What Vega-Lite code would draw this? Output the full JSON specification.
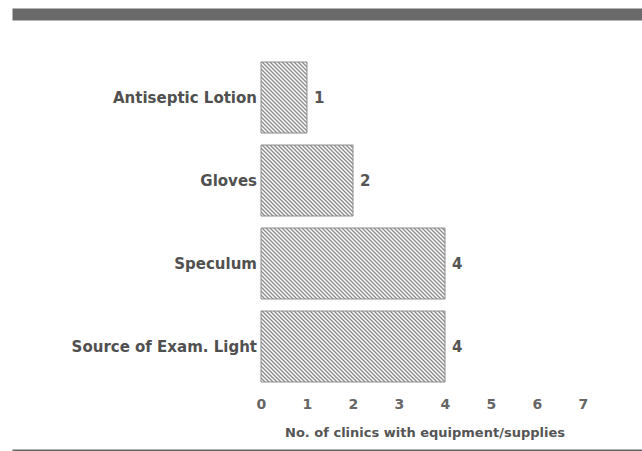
{
"$schema":"https://vega.github.io/schema/vega-lite/v6.json",
"autosize":"none",
"width":630,"height":437,
"padding":{"left":12,"top":14,"right":0,"bottom":0},
"background":"#ffffff",
"config":{"view":{"stroke":null},"font":"DejaVu Sans"},
"data":{"values":[
{"item":"Antiseptic Lotion","v":1},
{"item":"Gloves","v":2},
{"item":"Speculum","v":4},
{"item":"Source of Exam. Light","v":4}
]},
"resolve":{"axis":{"x":"independent"}},
"layer":[
{"mark":{"type":"bar","stroke":"#8c8c8c","strokeWidth":1},
"encoding":{
"x":{"field":"v","type":"quantitative","scale":{"domain":[-5.41304,8.28261],"nice":false,"zero":false},
"axis":{"orient":"bottom","values":[0,1,2,3,4,5,6,7],"format":"d","grid":false,"ticks":false,"tickSize":0,"domainColor":"#666666","domainWidth":4,"labelPadding":-47,"labelBaseline":"middle","labelFont":"DejaVu Sans","labelFontWeight":"bold","labelFontSize":14,"labelColor":"#666666","labelOverlap":false,"labelFlush":false,"title":"No. of clinics with equipment/supplies","titleFont":"DejaVu Sans","titleFontWeight":"bold","titleFontSize":13,"titleColor":"#555555","titleBaseline":"middle","titleX":412.5,"titleY":-19}},
"y":{"field":"item","type":"nominal","sort":null,"scale":{"paddingInner":0.14458,"paddingOuter":0.70482,"align":0.41026},"axis":null},
"fill":{"condition":[
{"test":"datum.v == 1","value":{"gradient":"linear","x1":0,"y1":1,"x2":1.64538,"y2":-1.53961,"stops":[{"offset":0,"color":"#8c8c8c"},{"offset":0.0078,"color":"#fff"},{"offset":0.0156,"color":"#8c8c8c"},{"offset":0.0234,"color":"#fff"},{"offset":0.0313,"color":"#8c8c8c"},{"offset":0.0391,"color":"#fff"},{"offset":0.0469,"color":"#8c8c8c"},{"offset":0.0547,"color":"#fff"},{"offset":0.0625,"color":"#8c8c8c"},{"offset":0.0703,"color":"#fff"},{"offset":0.0781,"color":"#8c8c8c"},{"offset":0.0859,"color":"#fff"},{"offset":0.0938,"color":"#8c8c8c"},{"offset":0.1016,"color":"#fff"},{"offset":0.1094,"color":"#8c8c8c"},{"offset":0.1172,"color":"#fff"},{"offset":0.125,"color":"#8c8c8c"},{"offset":0.1328,"color":"#fff"},{"offset":0.1406,"color":"#8c8c8c"},{"offset":0.1484,"color":"#fff"},{"offset":0.1563,"color":"#8c8c8c"},{"offset":0.1641,"color":"#fff"},{"offset":0.1719,"color":"#8c8c8c"},{"offset":0.1797,"color":"#fff"},{"offset":0.1875,"color":"#8c8c8c"},{"offset":0.1953,"color":"#fff"},{"offset":0.2031,"color":"#8c8c8c"},{"offset":0.2109,"color":"#fff"},{"offset":0.2188,"color":"#8c8c8c"},{"offset":0.2266,"color":"#fff"},{"offset":0.2344,"color":"#8c8c8c"},{"offset":0.2422,"color":"#fff"},{"offset":0.25,"color":"#8c8c8c"},{"offset":0.2578,"color":"#fff"},{"offset":0.2656,"color":"#8c8c8c"},{"offset":0.2734,"color":"#fff"},{"offset":0.2813,"color":"#8c8c8c"},{"offset":0.2891,"color":"#fff"},{"offset":0.2969,"color":"#8c8c8c"},{"offset":0.3047,"color":"#fff"},{"offset":0.3125,"color":"#8c8c8c"},{"offset":0.3203,"color":"#fff"},{"offset":0.3281,"color":"#8c8c8c"},{"offset":0.3359,"color":"#fff"},{"offset":0.3438,"color":"#8c8c8c"},{"offset":0.3516,"color":"#fff"},{"offset":0.3594,"color":"#8c8c8c"},{"offset":0.3672,"color":"#fff"},{"offset":0.375,"color":"#8c8c8c"},{"offset":0.3828,"color":"#fff"},{"offset":0.3906,"color":"#8c8c8c"},{"offset":0.3984,"color":"#fff"},{"offset":0.4063,"color":"#8c8c8c"},{"offset":0.4141,"color":"#fff"},{"offset":0.4219,"color":"#8c8c8c"},{"offset":0.4297,"color":"#fff"},{"offset":0.4375,"color":"#8c8c8c"},{"offset":0.4453,"color":"#fff"},{"offset":0.4531,"color":"#8c8c8c"},{"offset":0.4609,"color":"#fff"},{"offset":0.4688,"color":"#8c8c8c"},{"offset":0.4766,"color":"#fff"},{"offset":0.4844,"color":"#8c8c8c"},{"offset":0.4922,"color":"#fff"},{"offset":0.5,"color":"#8c8c8c"},{"offset":0.5078,"color":"#fff"},{"offset":0.5156,"color":"#8c8c8c"},{"offset":0.5234,"color":"#fff"},{"offset":0.5313,"color":"#8c8c8c"},{"offset":0.5391,"color":"#fff"},{"offset":0.5469,"color":"#8c8c8c"},{"offset":0.5547,"color":"#fff"},{"offset":0.5625,"color":"#8c8c8c"},{"offset":0.5703,"color":"#fff"},{"offset":0.5781,"color":"#8c8c8c"},{"offset":0.5859,"color":"#fff"},{"offset":0.5938,"color":"#8c8c8c"},{"offset":0.6016,"color":"#fff"},{"offset":0.6094,"color":"#8c8c8c"},{"offset":0.6172,"color":"#fff"},{"offset":0.625,"color":"#8c8c8c"},{"offset":0.6328,"color":"#fff"},{"offset":0.6406,"color":"#8c8c8c"},{"offset":0.6484,"color":"#fff"},{"offset":0.6563,"color":"#8c8c8c"},{"offset":0.6641,"color":"#fff"},{"offset":0.6719,"color":"#8c8c8c"},{"offset":0.6797,"color":"#fff"},{"offset":0.6875,"color":"#8c8c8c"},{"offset":0.6953,"color":"#fff"},{"offset":0.7031,"color":"#8c8c8c"},{"offset":0.7109,"color":"#fff"},{"offset":0.7188,"color":"#8c8c8c"},{"offset":0.7266,"color":"#fff"},{"offset":0.7344,"color":"#8c8c8c"},{"offset":0.7422,"color":"#fff"},{"offset":0.75,"color":"#8c8c8c"},{"offset":0.7578,"color":"#fff"},{"offset":0.7656,"color":"#8c8c8c"},{"offset":0.7734,"color":"#fff"},{"offset":0.7813,"color":"#8c8c8c"},{"offset":0.7891,"color":"#fff"},{"offset":0.7969,"color":"#8c8c8c"},{"offset":0.8047,"color":"#fff"},{"offset":0.8125,"color":"#8c8c8c"},{"offset":0.8203,"color":"#fff"},{"offset":0.8281,"color":"#8c8c8c"},{"offset":0.8359,"color":"#fff"},{"offset":0.8438,"color":"#8c8c8c"},{"offset":0.8516,"color":"#fff"},{"offset":0.8594,"color":"#8c8c8c"},{"offset":0.8672,"color":"#fff"},{"offset":0.875,"color":"#8c8c8c"},{"offset":0.8828,"color":"#fff"},{"offset":0.8906,"color":"#8c8c8c"},{"offset":0.8984,"color":"#fff"},{"offset":0.9063,"color":"#8c8c8c"},{"offset":0.9141,"color":"#fff"},{"offset":0.9219,"color":"#8c8c8c"},{"offset":0.9297,"color":"#fff"},{"offset":0.9375,"color":"#8c8c8c"},{"offset":0.9453,"color":"#fff"},{"offset":0.9531,"color":"#8c8c8c"},{"offset":0.9609,"color":"#fff"},{"offset":0.9688,"color":"#8c8c8c"},{"offset":0.9766,"color":"#fff"},{"offset":0.9844,"color":"#8c8c8c"},{"offset":0.9922,"color":"#fff"},{"offset":1,"color":"#8c8c8c"}]}},
{"test":"datum.v == 2","value":{"gradient":"linear","x1":0,"y1":1,"x2":1.74395,"y2":-0.34588,"stops":[{"offset":0,"color":"#8c8c8c"},{"offset":0.0078,"color":"#fff"},{"offset":0.0156,"color":"#8c8c8c"},{"offset":0.0234,"color":"#fff"},{"offset":0.0313,"color":"#8c8c8c"},{"offset":0.0391,"color":"#fff"},{"offset":0.0469,"color":"#8c8c8c"},{"offset":0.0547,"color":"#fff"},{"offset":0.0625,"color":"#8c8c8c"},{"offset":0.0703,"color":"#fff"},{"offset":0.0781,"color":"#8c8c8c"},{"offset":0.0859,"color":"#fff"},{"offset":0.0938,"color":"#8c8c8c"},{"offset":0.1016,"color":"#fff"},{"offset":0.1094,"color":"#8c8c8c"},{"offset":0.1172,"color":"#fff"},{"offset":0.125,"color":"#8c8c8c"},{"offset":0.1328,"color":"#fff"},{"offset":0.1406,"color":"#8c8c8c"},{"offset":0.1484,"color":"#fff"},{"offset":0.1563,"color":"#8c8c8c"},{"offset":0.1641,"color":"#fff"},{"offset":0.1719,"color":"#8c8c8c"},{"offset":0.1797,"color":"#fff"},{"offset":0.1875,"color":"#8c8c8c"},{"offset":0.1953,"color":"#fff"},{"offset":0.2031,"color":"#8c8c8c"},{"offset":0.2109,"color":"#fff"},{"offset":0.2188,"color":"#8c8c8c"},{"offset":0.2266,"color":"#fff"},{"offset":0.2344,"color":"#8c8c8c"},{"offset":0.2422,"color":"#fff"},{"offset":0.25,"color":"#8c8c8c"},{"offset":0.2578,"color":"#fff"},{"offset":0.2656,"color":"#8c8c8c"},{"offset":0.2734,"color":"#fff"},{"offset":0.2813,"color":"#8c8c8c"},{"offset":0.2891,"color":"#fff"},{"offset":0.2969,"color":"#8c8c8c"},{"offset":0.3047,"color":"#fff"},{"offset":0.3125,"color":"#8c8c8c"},{"offset":0.3203,"color":"#fff"},{"offset":0.3281,"color":"#8c8c8c"},{"offset":0.3359,"color":"#fff"},{"offset":0.3438,"color":"#8c8c8c"},{"offset":0.3516,"color":"#fff"},{"offset":0.3594,"color":"#8c8c8c"},{"offset":0.3672,"color":"#fff"},{"offset":0.375,"color":"#8c8c8c"},{"offset":0.3828,"color":"#fff"},{"offset":0.3906,"color":"#8c8c8c"},{"offset":0.3984,"color":"#fff"},{"offset":0.4063,"color":"#8c8c8c"},{"offset":0.4141,"color":"#fff"},{"offset":0.4219,"color":"#8c8c8c"},{"offset":0.4297,"color":"#fff"},{"offset":0.4375,"color":"#8c8c8c"},{"offset":0.4453,"color":"#fff"},{"offset":0.4531,"color":"#8c8c8c"},{"offset":0.4609,"color":"#fff"},{"offset":0.4688,"color":"#8c8c8c"},{"offset":0.4766,"color":"#fff"},{"offset":0.4844,"color":"#8c8c8c"},{"offset":0.4922,"color":"#fff"},{"offset":0.5,"color":"#8c8c8c"},{"offset":0.5078,"color":"#fff"},{"offset":0.5156,"color":"#8c8c8c"},{"offset":0.5234,"color":"#fff"},{"offset":0.5313,"color":"#8c8c8c"},{"offset":0.5391,"color":"#fff"},{"offset":0.5469,"color":"#8c8c8c"},{"offset":0.5547,"color":"#fff"},{"offset":0.5625,"color":"#8c8c8c"},{"offset":0.5703,"color":"#fff"},{"offset":0.5781,"color":"#8c8c8c"},{"offset":0.5859,"color":"#fff"},{"offset":0.5938,"color":"#8c8c8c"},{"offset":0.6016,"color":"#fff"},{"offset":0.6094,"color":"#8c8c8c"},{"offset":0.6172,"color":"#fff"},{"offset":0.625,"color":"#8c8c8c"},{"offset":0.6328,"color":"#fff"},{"offset":0.6406,"color":"#8c8c8c"},{"offset":0.6484,"color":"#fff"},{"offset":0.6563,"color":"#8c8c8c"},{"offset":0.6641,"color":"#fff"},{"offset":0.6719,"color":"#8c8c8c"},{"offset":0.6797,"color":"#fff"},{"offset":0.6875,"color":"#8c8c8c"},{"offset":0.6953,"color":"#fff"},{"offset":0.7031,"color":"#8c8c8c"},{"offset":0.7109,"color":"#fff"},{"offset":0.7188,"color":"#8c8c8c"},{"offset":0.7266,"color":"#fff"},{"offset":0.7344,"color":"#8c8c8c"},{"offset":0.7422,"color":"#fff"},{"offset":0.75,"color":"#8c8c8c"},{"offset":0.7578,"color":"#fff"},{"offset":0.7656,"color":"#8c8c8c"},{"offset":0.7734,"color":"#fff"},{"offset":0.7813,"color":"#8c8c8c"},{"offset":0.7891,"color":"#fff"},{"offset":0.7969,"color":"#8c8c8c"},{"offset":0.8047,"color":"#fff"},{"offset":0.8125,"color":"#8c8c8c"},{"offset":0.8203,"color":"#fff"},{"offset":0.8281,"color":"#8c8c8c"},{"offset":0.8359,"color":"#fff"},{"offset":0.8438,"color":"#8c8c8c"},{"offset":0.8516,"color":"#fff"},{"offset":0.8594,"color":"#8c8c8c"},{"offset":0.8672,"color":"#fff"},{"offset":0.875,"color":"#8c8c8c"},{"offset":0.8828,"color":"#fff"},{"offset":0.8906,"color":"#8c8c8c"},{"offset":0.8984,"color":"#fff"},{"offset":0.9063,"color":"#8c8c8c"},{"offset":0.9141,"color":"#fff"},{"offset":0.9219,"color":"#8c8c8c"},{"offset":0.9297,"color":"#fff"},{"offset":0.9375,"color":"#8c8c8c"},{"offset":0.9453,"color":"#fff"},{"offset":0.9531,"color":"#8c8c8c"},{"offset":0.9609,"color":"#fff"},{"offset":0.9688,"color":"#8c8c8c"},{"offset":0.9766,"color":"#fff"},{"offset":0.9844,"color":"#8c8c8c"},{"offset":0.9922,"color":"#fff"},{"offset":1,"color":"#8c8c8c"}]}}],
"value":{"gradient":"linear","x1":0,"y1":1,"x2":1.21099,"y2":0.53271,"stops":[{"offset":0,"color":"#8c8c8c"},{"offset":0.0078,"color":"#fff"},{"offset":0.0156,"color":"#8c8c8c"},{"offset":0.0234,"color":"#fff"},{"offset":0.0313,"color":"#8c8c8c"},{"offset":0.0391,"color":"#fff"},{"offset":0.0469,"color":"#8c8c8c"},{"offset":0.0547,"color":"#fff"},{"offset":0.0625,"color":"#8c8c8c"},{"offset":0.0703,"color":"#fff"},{"offset":0.0781,"color":"#8c8c8c"},{"offset":0.0859,"color":"#fff"},{"offset":0.0938,"color":"#8c8c8c"},{"offset":0.1016,"color":"#fff"},{"offset":0.1094,"color":"#8c8c8c"},{"offset":0.1172,"color":"#fff"},{"offset":0.125,"color":"#8c8c8c"},{"offset":0.1328,"color":"#fff"},{"offset":0.1406,"color":"#8c8c8c"},{"offset":0.1484,"color":"#fff"},{"offset":0.1563,"color":"#8c8c8c"},{"offset":0.1641,"color":"#fff"},{"offset":0.1719,"color":"#8c8c8c"},{"offset":0.1797,"color":"#fff"},{"offset":0.1875,"color":"#8c8c8c"},{"offset":0.1953,"color":"#fff"},{"offset":0.2031,"color":"#8c8c8c"},{"offset":0.2109,"color":"#fff"},{"offset":0.2188,"color":"#8c8c8c"},{"offset":0.2266,"color":"#fff"},{"offset":0.2344,"color":"#8c8c8c"},{"offset":0.2422,"color":"#fff"},{"offset":0.25,"color":"#8c8c8c"},{"offset":0.2578,"color":"#fff"},{"offset":0.2656,"color":"#8c8c8c"},{"offset":0.2734,"color":"#fff"},{"offset":0.2813,"color":"#8c8c8c"},{"offset":0.2891,"color":"#fff"},{"offset":0.2969,"color":"#8c8c8c"},{"offset":0.3047,"color":"#fff"},{"offset":0.3125,"color":"#8c8c8c"},{"offset":0.3203,"color":"#fff"},{"offset":0.3281,"color":"#8c8c8c"},{"offset":0.3359,"color":"#fff"},{"offset":0.3438,"color":"#8c8c8c"},{"offset":0.3516,"color":"#fff"},{"offset":0.3594,"color":"#8c8c8c"},{"offset":0.3672,"color":"#fff"},{"offset":0.375,"color":"#8c8c8c"},{"offset":0.3828,"color":"#fff"},{"offset":0.3906,"color":"#8c8c8c"},{"offset":0.3984,"color":"#fff"},{"offset":0.4063,"color":"#8c8c8c"},{"offset":0.4141,"color":"#fff"},{"offset":0.4219,"color":"#8c8c8c"},{"offset":0.4297,"color":"#fff"},{"offset":0.4375,"color":"#8c8c8c"},{"offset":0.4453,"color":"#fff"},{"offset":0.4531,"color":"#8c8c8c"},{"offset":0.4609,"color":"#fff"},{"offset":0.4688,"color":"#8c8c8c"},{"offset":0.4766,"color":"#fff"},{"offset":0.4844,"color":"#8c8c8c"},{"offset":0.4922,"color":"#fff"},{"offset":0.5,"color":"#8c8c8c"},{"offset":0.5078,"color":"#fff"},{"offset":0.5156,"color":"#8c8c8c"},{"offset":0.5234,"color":"#fff"},{"offset":0.5313,"color":"#8c8c8c"},{"offset":0.5391,"color":"#fff"},{"offset":0.5469,"color":"#8c8c8c"},{"offset":0.5547,"color":"#fff"},{"offset":0.5625,"color":"#8c8c8c"},{"offset":0.5703,"color":"#fff"},{"offset":0.5781,"color":"#8c8c8c"},{"offset":0.5859,"color":"#fff"},{"offset":0.5938,"color":"#8c8c8c"},{"offset":0.6016,"color":"#fff"},{"offset":0.6094,"color":"#8c8c8c"},{"offset":0.6172,"color":"#fff"},{"offset":0.625,"color":"#8c8c8c"},{"offset":0.6328,"color":"#fff"},{"offset":0.6406,"color":"#8c8c8c"},{"offset":0.6484,"color":"#fff"},{"offset":0.6563,"color":"#8c8c8c"},{"offset":0.6641,"color":"#fff"},{"offset":0.6719,"color":"#8c8c8c"},{"offset":0.6797,"color":"#fff"},{"offset":0.6875,"color":"#8c8c8c"},{"offset":0.6953,"color":"#fff"},{"offset":0.7031,"color":"#8c8c8c"},{"offset":0.7109,"color":"#fff"},{"offset":0.7188,"color":"#8c8c8c"},{"offset":0.7266,"color":"#fff"},{"offset":0.7344,"color":"#8c8c8c"},{"offset":0.7422,"color":"#fff"},{"offset":0.75,"color":"#8c8c8c"},{"offset":0.7578,"color":"#fff"},{"offset":0.7656,"color":"#8c8c8c"},{"offset":0.7734,"color":"#fff"},{"offset":0.7813,"color":"#8c8c8c"},{"offset":0.7891,"color":"#fff"},{"offset":0.7969,"color":"#8c8c8c"},{"offset":0.8047,"color":"#fff"},{"offset":0.8125,"color":"#8c8c8c"},{"offset":0.8203,"color":"#fff"},{"offset":0.8281,"color":"#8c8c8c"},{"offset":0.8359,"color":"#fff"},{"offset":0.8438,"color":"#8c8c8c"},{"offset":0.8516,"color":"#fff"},{"offset":0.8594,"color":"#8c8c8c"},{"offset":0.8672,"color":"#fff"},{"offset":0.875,"color":"#8c8c8c"},{"offset":0.8828,"color":"#fff"},{"offset":0.8906,"color":"#8c8c8c"},{"offset":0.8984,"color":"#fff"},{"offset":0.9063,"color":"#8c8c8c"},{"offset":0.9141,"color":"#fff"},{"offset":0.9219,"color":"#8c8c8c"},{"offset":0.9297,"color":"#fff"},{"offset":0.9375,"color":"#8c8c8c"},{"offset":0.9453,"color":"#fff"},{"offset":0.9531,"color":"#8c8c8c"},{"offset":0.9609,"color":"#fff"},{"offset":0.9688,"color":"#8c8c8c"},{"offset":0.9766,"color":"#fff"},{"offset":0.9844,"color":"#8c8c8c"},{"offset":0.9922,"color":"#fff"},{"offset":1,"color":"#8c8c8c"}]}}
}},
{"mark":{"type":"text","align":"left","baseline":"middle","dx":7,"font":"DejaVu Sans","fontWeight":"bold","fontSize":15,"color":"#555555"},
"encoding":{
"x":{"field":"v","type":"quantitative","scale":{"domain":[-5.41304,8.28261],"nice":false,"zero":false},
"axis":{"orient":"top","domainColor":"#6a6a6a","domainWidth":12,"labels":false,"ticks":false,"grid":false,"title":null}},
"y":{"field":"item","type":"nominal","sort":null,"axis":null},
"text":{"field":"v","type":"quantitative"}
}},
{"mark":{"type":"text","align":"right","baseline":"middle","dx":-4,"font":"DejaVu Sans","fontWeight":"bold","fontSize":15,"color":"#505050"},
"encoding":{
"x":{"datum":0,"type":"quantitative","axis":null},
"y":{"field":"item","type":"nominal","sort":null,"axis":null},
"text":{"field":"item","type":"nominal"}
}}
]
}
